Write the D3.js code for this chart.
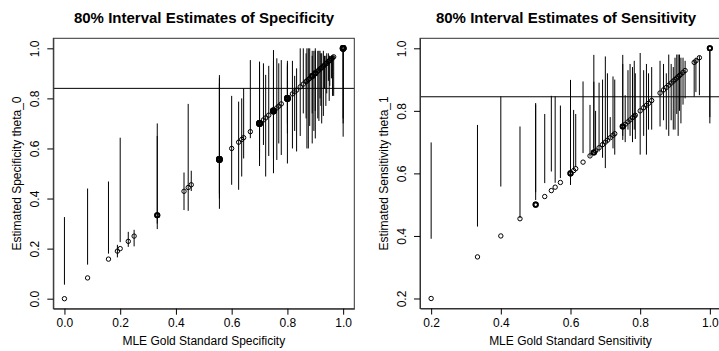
<!DOCTYPE html>
<html>
<head>
<meta charset="utf-8">
<script src="https://cdn.jsdelivr.net/npm/d3@7"></script>
<style>
  body { margin: 0; background: #fff; }
  svg text { font-family: "Liberation Sans", Arial, Helvetica, sans-serif; fill: #000; }
</style>
</head>
<body>
<div id="viz"></div>
<script>
// specificity panel: MLE, 80% interval low / high
var specMle = [
  0.000, 0.083, 0.158, 0.190, 0.200, 0.229, 0.250, 0.333, 0.333, 0.429, 0.444, 0.455,
  0.556, 0.556, 0.556, 0.600, 0.625, 0.636, 0.643, 0.667,
  0.700, 0.700, 0.700, 0.714, 0.722, 0.733, 0.750, 0.750, 0.750, 0.762, 0.769, 0.778,
  0.800, 0.800, 0.800, 0.818, 0.826, 0.833, 0.846, 0.857, 0.867, 0.870, 0.875, 0.880,
  0.889, 0.889, 0.895, 0.900, 0.900, 0.909, 0.913, 0.917, 0.920, 0.923, 0.929, 0.933,
  0.938, 0.941, 0.947, 0.950, 0.952, 0.958, 0.962, 0.966, 1.000, 1.000, 1.000
];
var specLo = [
  0.056, 0.136, 0.180, 0.165, 0.226, 0.207, 0.209, 0.278, 0.300, 0.354, 0.351, 0.430,
  0.359, 0.420, 0.400, 0.455, 0.435, 0.488, 0.560, 0.641,
  0.530, 0.560, 0.580, 0.614, 0.488, 0.570, 0.501, 0.560, 0.600, 0.554, 0.620, 0.574,
  0.540, 0.700, 0.660, 0.600, 0.670, 0.588, 0.650, 0.740, 0.720, 0.600, 0.600, 0.690,
  0.620, 0.740, 0.670, 0.640, 0.750, 0.720, 0.710, 0.800, 0.770, 0.700, 0.730, 0.840,
  0.770, 0.820, 0.870, 0.790, 0.850, 0.880, 0.810, 0.810, 0.647, 0.700, 0.720
];
var specHi = [
  0.326, 0.440, 0.468, 0.215, 0.643, 0.267, 0.275, 0.700, 0.650, 0.504, 0.778, 0.511,
  0.893, 0.880, 0.860, 0.810, 0.787, 0.800, 0.840, 0.953,
  0.947, 0.930, 0.900, 0.940, 0.894, 0.930, 0.993, 0.950, 0.920, 0.960, 0.940, 0.953,
  0.930, 0.950, 0.940, 0.950, 0.890, 0.920, 1.000, 1.000, 0.980, 1.000, 1.000, 1.000,
  0.990, 0.970, 0.990, 1.000, 0.990, 0.990, 0.990, 0.990, 0.980, 0.980, 0.990, 0.970,
  0.970, 0.980, 0.980, 0.970, 0.970, 0.970, 0.970, 0.970, 1.000, 1.000, 0.990
];
var specRef = 0.84;
var specTicks = [0, 0.2, 0.4, 0.6, 0.8, 1.0];

// sensitivity panel
var sensMle = [
  0.200, 0.333, 0.400, 0.455, 0.500, 0.500, 0.526, 0.545, 0.556, 0.571,
  0.600, 0.600, 0.609, 0.615, 0.636, 0.656, 0.667, 0.667, 0.672, 0.682,
  0.692, 0.700, 0.706, 0.714, 0.722, 0.727, 0.750, 0.750, 0.757, 0.765,
  0.771, 0.778, 0.783, 0.786, 0.800, 0.810, 0.818, 0.824, 0.833, 0.857,
  0.867, 0.875, 0.882, 0.889, 0.895, 0.900, 0.905, 0.909, 0.913, 0.917,
  0.923, 0.929, 0.955, 0.960, 0.970, 1.000, 1.000
];
var sensLo = [
  0.391, 0.430, 0.558, 0.457, 0.515, 0.540, 0.569, 0.606, 0.570, 0.585,
  0.563, 0.600, 0.611, 0.620, 0.665, 0.654, 0.665, 0.680, 0.660, 0.670,
  0.650, 0.617, 0.700, 0.710, 0.680, 0.660, 0.707, 0.720, 0.700, 0.740,
  0.720, 0.700, 0.740, 0.710, 0.660, 0.720, 0.660, 0.740, 0.740, 0.750,
  0.770, 0.740, 0.720, 0.770, 0.740, 0.740, 0.790, 0.720, 0.800, 0.760,
  0.820, 0.840, 0.845, 0.860, 0.850, 0.760, 0.780
];
var sensHi = [
  0.699, 0.755, 0.846, 0.750, 0.825, 0.820, 0.790, 0.848, 0.846, 0.817,
  0.899, 0.880, 0.803, 0.790, 0.894, 0.819, 0.979, 0.893, 0.800, 0.890,
  0.900, 0.974, 0.920, 0.780, 0.910, 0.900, 0.979, 0.950, 0.850, 0.930,
  0.950, 0.940, 0.960, 0.920, 0.985, 0.930, 0.950, 0.920, 0.940, 0.960,
  0.950, 0.920, 0.980, 0.950, 0.940, 0.970, 0.980, 0.980, 0.980, 0.970,
  0.970, 0.960, 0.960, 0.970, 0.975, 0.995, 0.990
];
var sensRef = 0.845;
var sensTicks = [0.2, 0.4, 0.6, 0.8, 1.0];

var width = 719, height = 351;

var svg = d3.select("#viz")
  .append("svg")
  .attr("width", width)
  .attr("height", height);

drawPanel({
  left: 53.3, right: 354.3, top: 38.3, bottom: 308.7, titleX: 204,
  mle: specMle, lo: specLo, hi: specHi, ref: specRef, ticks: specTicks,
  title: "80% Interval Estimates of Specificity",
  xlab: "MLE Gold Standard Specificity",
  ylab: "Estimated Specificity theta_0"
});
drawPanel({
  left: 420, right: 721, top: 38.3, bottom: 308.5, titleX: 566,
  mle: sensMle, lo: sensLo, hi: sensHi, ref: sensRef, ticks: sensTicks,
  title: "80% Interval Estimates of Sensitivity",
  xlab: "MLE Gold Standard Sensitivity",
  ylab: "Estimated Sensitivity theta_1"
});

function drawPanel(p) {
  // R style: data range padded by 4% each side
  var lo = d3.min(p.mle), hi = d3.max(p.mle);
  var pad = (hi - lo) * 0.04;
  var x = d3.scaleLinear().domain([lo - pad, hi + pad]).range([p.left, p.right]);
  var y = d3.scaleLinear().domain([lo - pad, hi + pad]).range([p.bottom, p.top]);

  // how many studies share each MLE (overplotted circles look heavier)
  var counts = d3.rollup(p.mle, function(v) { return v.length; }, function(d) { return d; });

  var g = svg.append("g");

  var clip = "clip" + Math.round(p.left);
  svg.append("clipPath").attr("id", clip)
    .append("rect")
    .attr("x", p.left).attr("y", p.top)
    .attr("width", p.right - p.left).attr("height", p.bottom - p.top);

  var plot = g.append("g").attr("clip-path", "url(#" + clip + ")");

  // intervals
  plot.selectAll("line.iv")
    .data(p.mle)
    .enter()
    .append("line")
    .attr("class", "iv")
    .attr("x1", function(d) { return x(d); })
    .attr("x2", function(d) { return x(d); })
    .attr("y1", function(d, i) { return y(p.lo[i]); })
    .attr("y2", function(d, i) { return y(p.hi[i]); })
    .attr("stroke", "#000")
    .attr("stroke-width", 1);

  // MLE points on the diagonal
  plot.selectAll("circle")
    .data(p.mle)
    .enter()
    .append("circle")
    .attr("cx", function(d) { return x(d); })
    .attr("cy", function(d) { return y(d); })
    .attr("r", 2.2)
    .attr("fill", "none")
    .attr("stroke", "#000")
    .attr("stroke-width", function(d) { return Math.min(2.4, 1 + 0.7 * (counts.get(d) - 1)); });

  // reference line
  plot.append("line")
    .attr("x1", p.left).attr("x2", p.right)
    .attr("y1", y(p.ref)).attr("y2", y(p.ref))
    .attr("stroke", "#000")
    .attr("stroke-width", 1);

  // box
  g.append("rect")
    .attr("x", p.left).attr("y", p.top)
    .attr("width", p.right - p.left).attr("height", p.bottom - p.top)
    .attr("fill", "none")
    .attr("stroke", "#333")
    .attr("stroke-width", 1);

  // axes
  var fmt = d3.format(".1f");
  var xAxis = g.append("g")
    .attr("transform", "translate(0," + p.bottom + ")")
    .call(d3.axisBottom(x).tickValues(p.ticks).tickFormat(fmt).tickSize(6).tickSizeOuter(0).tickPadding(4));
  var yAxis = g.append("g")
    .attr("transform", "translate(" + p.left + ",0)")
    .call(d3.axisLeft(y).tickValues(p.ticks).tickFormat(fmt).tickSize(6).tickSizeOuter(0).tickPadding(3));

  [xAxis, yAxis].forEach(function(a) {
    a.select(".domain").attr("stroke", "#333");
    a.selectAll(".tick line").attr("stroke", "#000");
    a.selectAll("text").style("font-size", "12px").attr("fill", "#000");
  });

  // rotate y tick labels like R
  yAxis.selectAll(".tick text")
    .attr("x", null).attr("dy", null)
    .attr("text-anchor", "middle")
    .attr("transform", "translate(-14.5,0) rotate(-90)");

  // titles
  g.append("text")
    .attr("x", p.titleX)
    .attr("y", 23)
    .attr("text-anchor", "middle")
    .style("font-size", "15px")
    .style("font-weight", "bold")
    .text(p.title);

  g.append("text")
    .attr("x", (p.left + p.right) / 2 > 600 ? 566 : (p.left + p.right) / 2)
    .attr("y", p.bottom + 36)
    .attr("text-anchor", "middle")
    .style("font-size", "12px")
    .text(p.xlab);

  g.append("text")
    .attr("transform", "translate(" + (p.left - 32) + "," + ((p.top + p.bottom) / 2) + ") rotate(-90)")
    .attr("text-anchor", "middle")
    .style("font-size", "12px")
    .text(p.ylab);
}
</script>
</body>
</html>
